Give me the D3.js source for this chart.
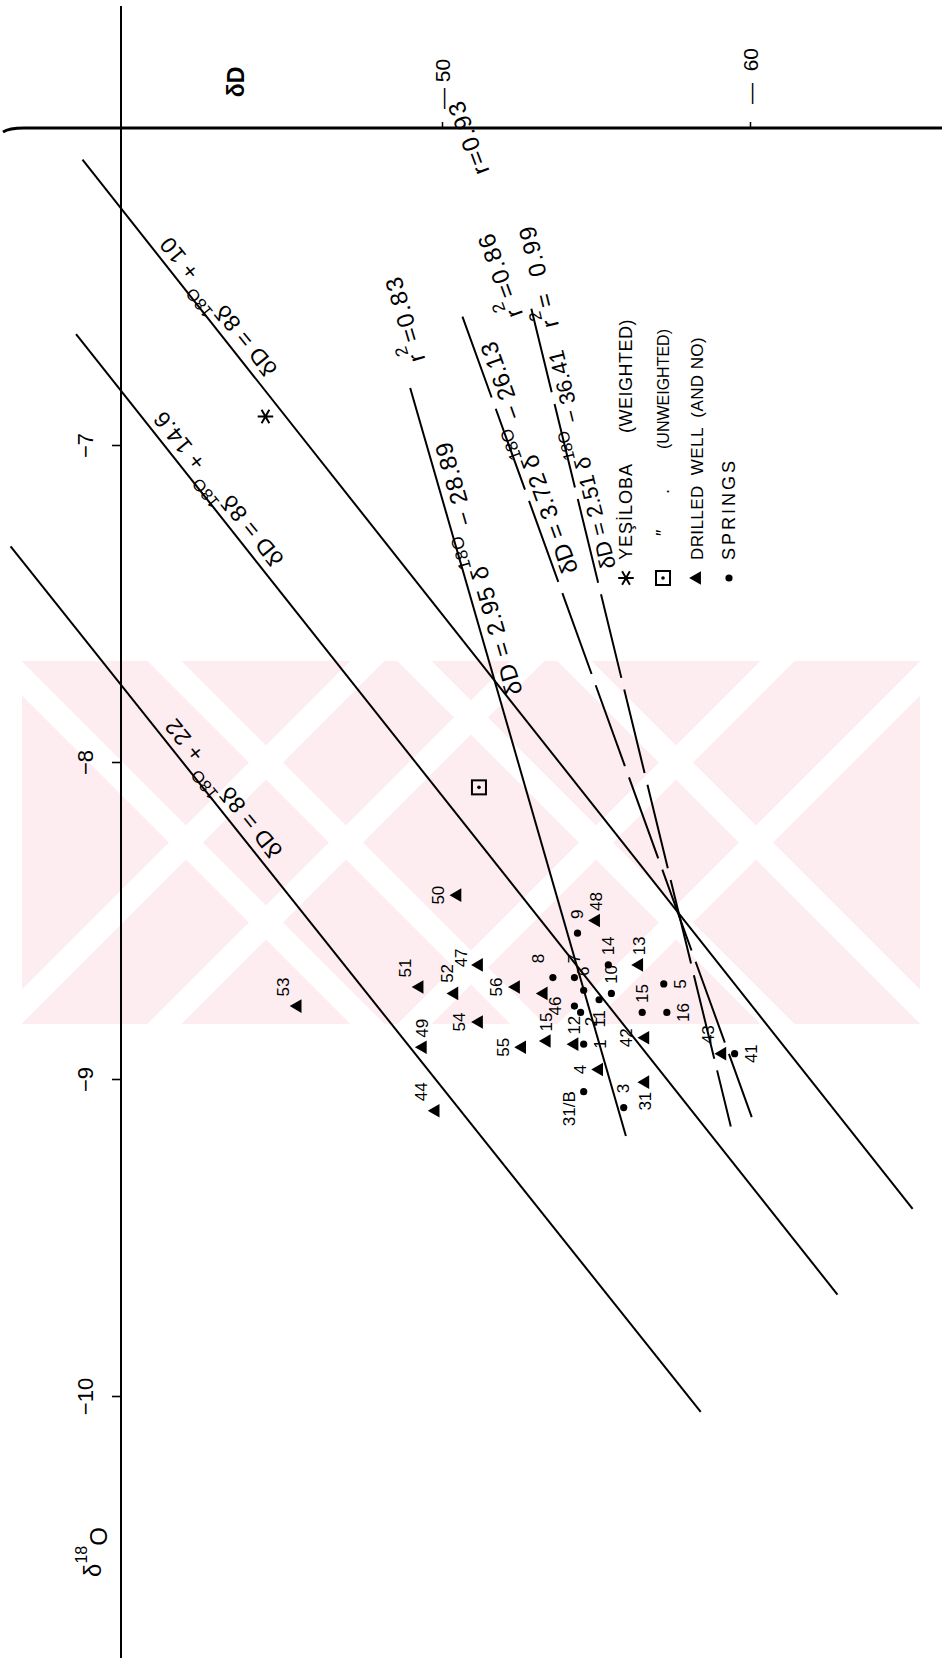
<!DOCTYPE html>
<html>
<head>
<meta charset="utf-8">
<script src="https://cdn.jsdelivr.net/npm/d3@7"></script>
<style>
  body { margin: 0; background: #fff; }
  svg { display: block; }
  text { white-space: pre; }
</style>
</head>
<body>
<svg id="chart" width="942" height="1658"></svg>
<script>
// ---- axis ticks ----
const dDTicks = [-50, -60];
const o18Ticks = [-7, -8, -9, -10];

// ---- meteoric water lines: δD = 8·δ18O + d ----
const mwlIntercepts = [10, 14.6, 22];
const mwlFrom = [-6.10, -6.65, -7.32];
const mwlTo = [-9.41, -9.68, -10.05];
const mwlLabelAt = [-6.80, -7.40, -8.32];

// ---- regression lines: δD = a·δ18O + b ----
const regSlopes = [2.95, 3.72, 2.51];
const regIntercepts = [-28.89, -26.13, -36.41];
const regFrom = [-6.82, -6.595, -6.57];
const regTo = [-9.18, -9.12, -9.15];
const regLabelAt = [-7.80, -7.42, -7.40];
const regR2 = ["0.83", "0.86", "0.99"];
const regR2At = [-6.75, -6.65, -6.64];
const regR = [null, "0.93", null];
const regRAt = [null, -6.22, null];

// ---- Yeşiloba precipitation ----
const yesilobaWeighted = { d18O: -6.91, dD: -44.5 };
const yesilobaUnweighted = { d18O: -8.08, dD: -51.2 };

// ---- drilled wells ----
const wellIds  = ["44", "49", "51", "52", "47", "50", "53", "54", "55", "56", "15", "12", "4", "42", "31", "48", "13", "43", ""];
const wellD18O = [-9.10, -8.90, -8.71, -8.73, -8.64, -8.42, -8.77, -8.82, -8.90, -8.71, -8.88, -8.89, -8.97, -8.87, -9.01, -8.50, -8.64, -8.92, -8.73];
const wellDD   = [-49.8, -49.4, -49.3, -50.4, -51.2, -50.5, -45.5, -51.2, -52.6, -52.4, -53.4, -54.3, -55.1, -56.6, -56.6, -55.0, -56.4, -59.1, -53.3];
const wellLabelSide = ["nw", "n", "nw", "nn", "wn", "w", "nw", "w", "w", "w", "n", "n", "w", "w", "s", "n", "n", "nw", "n"];

// ---- springs ----
const springIds  = ["9", "14", "8", "7", "6", "10", "11", "2", "1", "46", "31/B", "3", "15", "5", "16", "41"];
const springD18O = [-8.54, -8.64, -8.68, -8.68, -8.72, -8.73, -8.75, -8.79, -8.89, -8.77, -9.04, -9.09, -8.79, -8.70, -8.79, -8.92];
const springDD   = [-54.4, -55.4, -53.6, -54.3, -54.6, -55.5, -55.1, -54.5, -54.6, -54.3, -54.6, -55.9, -56.5, -57.2, -57.3, -59.5];
const springLabelSide = ["n", "n", "nw", "n", "n", "n", "s", "se", "e", "w", "sw", "n", "n", "e", "e", "e"];

// ---- legend ----
const legendRows = ["YEŞİLOBA", "″", "DRILLED  WELL  (AND NO)", "SPRINGS"];
const legendNotes = ["(WEIGHTED)", "(UNWEIGHTED)", "", ""];

// ================= drawing =================
const W = 942, H = 1658;
const FONT = "'Liberation Sans', Arial, sans-serif";
const svg = d3.select("#chart");

const x = d3.scaleLinear().domain([-40, -50, -60]).range([121, 442, 750]);
const y = d3.scaleLinear().domain([-6, -10]).range([128, 1396]);

// faint archive stamp behind the plot
const stamp = { x0: 22, x1: 920, y0: 661, y1: 1024 };
const defs = svg.append("defs");
defs.append("clipPath").attr("id", "stampClip").append("rect")
  .attr("x", stamp.x0).attr("y", stamp.y0)
  .attr("width", stamp.x1 - stamp.x0).attr("height", stamp.y1 - stamp.y0);
const gStamp = svg.append("g").attr("clip-path", "url(#stampClip)");
gStamp.append("rect")
  .attr("x", stamp.x0).attr("y", stamp.y0)
  .attr("width", stamp.x1 - stamp.x0).attr("height", stamp.y1 - stamp.y0)
  .attr("fill", "#fdedf0");
const cy = (stamp.y0 + stamp.y1) / 2;
[266, 676].forEach(cx => {
  [-80, 80].forEach(off => {
    [1, -1].forEach(dir => {
      gStamp.append("line")
        .attr("x1", cx + off - dir * 260).attr("y1", cy - 260)
        .attr("x2", cx + off + dir * 260).attr("y2", cy + 260)
        .attr("stroke", "#fff").attr("stroke-width", 24);
    });
  });
});

// axis frame
svg.append("line")
  .attr("x1", x(-40)).attr("x2", x(-40)).attr("y1", 6).attr("y2", H)
  .attr("stroke", "#000").attr("stroke-width", 2);
svg.append("path")
  .attr("d", `M3,${y(-6) + 4} Q9,${y(-6)} 24,${y(-6)} L${W},${y(-6)}`)
  .attr("fill", "none").attr("stroke", "#000").attr("stroke-width", 3);

// δ18O axis (vertical)
const gLeft = svg.append("g")
  .attr("transform", `translate(${x(-40)},0)`)
  .call(d3.axisLeft(y).tickValues(o18Ticks).tickSize(9).tickFormat(d => "−" + Math.abs(d)));
gLeft.attr("font-family", FONT).attr("font-size", 22);
gLeft.select(".domain").remove();
gLeft.selectAll("line").attr("stroke", "#000").attr("stroke-width", 1.6);
gLeft.selectAll("text")
  .attr("x", null).attr("dy", null).attr("fill", "#000")
  .attr("text-anchor", "middle").attr("dominant-baseline", "central")
  .attr("transform", "translate(-36,0) rotate(-90)");

// δD axis (horizontal, top)
const gTop = svg.append("g")
  .attr("transform", `translate(0,${y(-6)})`)
  .call(d3.axisTop(x).tickValues(dDTicks).tickSize(6)
    .tickFormat(d => (d === -60 ? "—  " : "— ") + Math.abs(d)));
gTop.attr("font-family", FONT).attr("font-size", 21);
gTop.select(".domain").remove();
gTop.selectAll("line").attr("stroke", "#000").attr("stroke-width", 1.5);
gTop.selectAll("text")
  .attr("y", null).attr("dy", null).attr("fill", "#000")
  .attr("text-anchor", "start").attr("dominant-baseline", "central")
  .attr("transform", d => `translate(0,${d === -50 ? -19 : -24}) rotate(-90)`);

// axis titles
svg.append("text")
  .attr("transform", `translate(236,82) rotate(-90)`)
  .attr("text-anchor", "middle").attr("dominant-baseline", "central")
  .attr("font-family", FONT).attr("font-size", 23).attr("font-weight", "bold")
  .text("δD");
const t18 = svg.append("text")
  .attr("transform", `translate(92,1552) rotate(-90)`)
  .attr("text-anchor", "middle").attr("dominant-baseline", "central")
  .attr("font-family", FONT).attr("font-size", 24);
t18.append("tspan").text("δ");
t18.append("tspan").attr("font-size", 16).attr("dy", "-0.7em").text("18");
t18.append("tspan").attr("dy", "0.7em").text("O");

// rich text with ^sup parts
function richText(sel, str, fs) {
  const parts = str.split(/(\^\w+)/).filter(s => s.length);
  let up = false;
  parts.forEach(p => {
    if (p[0] === "^") {
      sel.append("tspan").attr("font-size", fs * 0.72).attr("dy", -fs * 0.42).text(p.slice(1));
      up = true;
    } else {
      const t = sel.append("tspan").text(p);
      if (up) { t.attr("dy", fs * 0.42); up = false; }
    }
  });
}

// label set along a line δD = f(δ18O), starting at δ18O = at and reading upward,
// hanging on the side of the line away from the δD axis
function lineLabel(f, at, str, fs, gap, spacing) {
  const p0 = [x(f(at)), y(at)];
  const p1 = [x(f(at + 0.5)), y(at + 0.5)];
  const ang = Math.atan2(p1[1] - p0[1], p1[0] - p0[0]) * 180 / Math.PI;
  const t = svg.append("text")
    .attr("transform", `translate(${p0[0]},${p0[1]}) rotate(${ang}) translate(0,${gap})`)
    .attr("font-family", FONT).attr("font-size", fs)
    .attr("letter-spacing", spacing || 0)
    .attr("dominant-baseline", "hanging");
  richText(t, str, fs);
}

// meteoric lines
mwlIntercepts.forEach((d, i) => {
  const f = o => 8 * o + d;
  svg.append("line")
    .attr("x1", x(f(mwlFrom[i]))).attr("y1", y(mwlFrom[i]))
    .attr("x2", x(f(mwlTo[i]))).attr("y2", y(mwlTo[i]))
    .attr("stroke", "#000").attr("stroke-width", 2);
  lineLabel(f, mwlLabelAt[i], `δD = 8δ^18O + ${d}`, 23, 4, 0.5);
});

// regression lines
const regFont = [24, 24, 22];
const r2Gap = [5, 40, 5];
regSlopes.forEach((a, i) => {
  const b = regIntercepts[i];
  const f = o => a * o + b;
  svg.append("line")
    .attr("x1", x(f(regFrom[i]))).attr("y1", y(regFrom[i]))
    .attr("x2", x(f(regTo[i]))).attr("y2", y(regTo[i]))
    .attr("stroke", "#000").attr("stroke-width", 2)
    .attr("stroke-dasharray", i === 0 ? null : "86,12");
  lineLabel(f, regLabelAt[i], `δD = ${a.toFixed(2)} δ^18O − ${Math.abs(b).toFixed(2)}`, regFont[i], 5, i === 0 ? 0.8 : 0);
  lineLabel(f, regR2At[i], i === 2 ? `r^2=  ${regR2[i]}` : `r^2=${regR2[i]}`, 24, r2Gap[i], 1.5);
  if (regR[i]) lineLabel(f, regRAt[i], `r=${regR[i]}`, 24, 58, 1.5);
});

// marker shapes
const triPath = d3.symbol().type(d3.symbolTriangle).size(80)();
const side = {
  n: [0, -19], s: [0, 19], w: [-19, 0], e: [17, 0], wn: [-17, -7], nn: [-7, -20],
  nw: [-14, -19], ne: [12, -17], sw: [-14, 17], se: [11, 9]
};
function pointLabel(px, py, id, code) {
  if (!id) return;
  const o = side[code];
  svg.append("text")
    .attr("transform", `translate(${px + o[0]},${py + o[1]}) rotate(-90)`)
    .attr("text-anchor", "middle").attr("dominant-baseline", "central")
    .attr("font-family", FONT).attr("font-size", 17)
    .text(id);
}

// wells
svg.append("g").selectAll("path").data(wellIds).join("path")
  .attr("d", triPath)
  .attr("transform", (d, i) => `translate(${x(wellDD[i])},${y(wellD18O[i])}) rotate(-90)`)
  .attr("fill", "#000");
wellIds.forEach((id, i) => pointLabel(x(wellDD[i]), y(wellD18O[i]), id, wellLabelSide[i]));

// springs
svg.append("g").selectAll("circle").data(springIds).join("circle")
  .attr("cx", (d, i) => x(springDD[i])).attr("cy", (d, i) => y(springD18O[i]))
  .attr("r", 3.6).attr("fill", "#000");
springIds.forEach((id, i) => pointLabel(x(springDD[i]), y(springD18O[i]), id, springLabelSide[i]));

// Yeşiloba
const starPath = d3.symbol().type(d3.symbolAsterisk).size(170)();
svg.append("path")
  .attr("d", starPath)
  .attr("transform", `translate(${x(yesilobaWeighted.dD)},${y(yesilobaWeighted.d18O)}) rotate(90)`)
  .attr("fill", "none").attr("stroke", "#000").attr("stroke-width", 2);
function boxMark(cx, cy) {
  svg.append("rect").attr("x", cx - 7).attr("y", cy - 7).attr("width", 14).attr("height", 14)
    .attr("fill", "none").attr("stroke", "#000").attr("stroke-width", 2);
  svg.append("circle").attr("cx", cx).attr("cy", cy).attr("r", 1.8).attr("fill", "#000");
}
boxMark(x(yesilobaUnweighted.dD), y(yesilobaUnweighted.d18O));

// legend
const legX = [626, 663, 697, 729];
const legMarkY = 578;
const legTextY = 560;
const legFont = [18, 18, 17, 18];
const legSpacing = [1, 0, 0.4, 3];
legendRows.forEach((label, i) => {
  const lx = legX[i];
  if (i === 0) {
    svg.append("path").attr("d", starPath)
      .attr("transform", `translate(${lx},${legMarkY}) rotate(90)`)
      .attr("fill", "none").attr("stroke", "#000").attr("stroke-width", 2);
  } else if (i === 1) {
    boxMark(lx, legMarkY);
  } else if (i === 2) {
    svg.append("path").attr("d", triPath)
      .attr("transform", `translate(${lx},${legMarkY}) rotate(-90)`).attr("fill", "#000");
  } else {
    svg.append("circle").attr("cx", lx).attr("cy", legMarkY).attr("r", 3.6).attr("fill", "#000");
  }
  svg.append("text")
    .attr("transform", `translate(${lx},${i === 1 ? 536 : legTextY}) rotate(-90)`)
    .attr("dominant-baseline", "central")
    .attr("font-family", FONT).attr("font-size", legFont[i]).attr("letter-spacing", legSpacing[i])
    .text(label);
  if (i === 1) {
    svg.append("text")
      .attr("transform", `translate(${lx},494) rotate(-90)`)
      .attr("dominant-baseline", "central")
      .attr("font-family", FONT).attr("font-size", 18).text(".");
  }
  if (legendNotes[i]) {
    svg.append("text")
      .attr("transform", `translate(${lx},${i === 0 ? 433 : 449}) rotate(-90)`)
      .attr("dominant-baseline", "central")
      .attr("font-family", FONT).attr("font-size", i === 0 ? 18 : 16)
      .attr("letter-spacing", i === 0 ? 0.5 : 0)
      .text(legendNotes[i]);
  }
});
</script>
</body>
</html>
